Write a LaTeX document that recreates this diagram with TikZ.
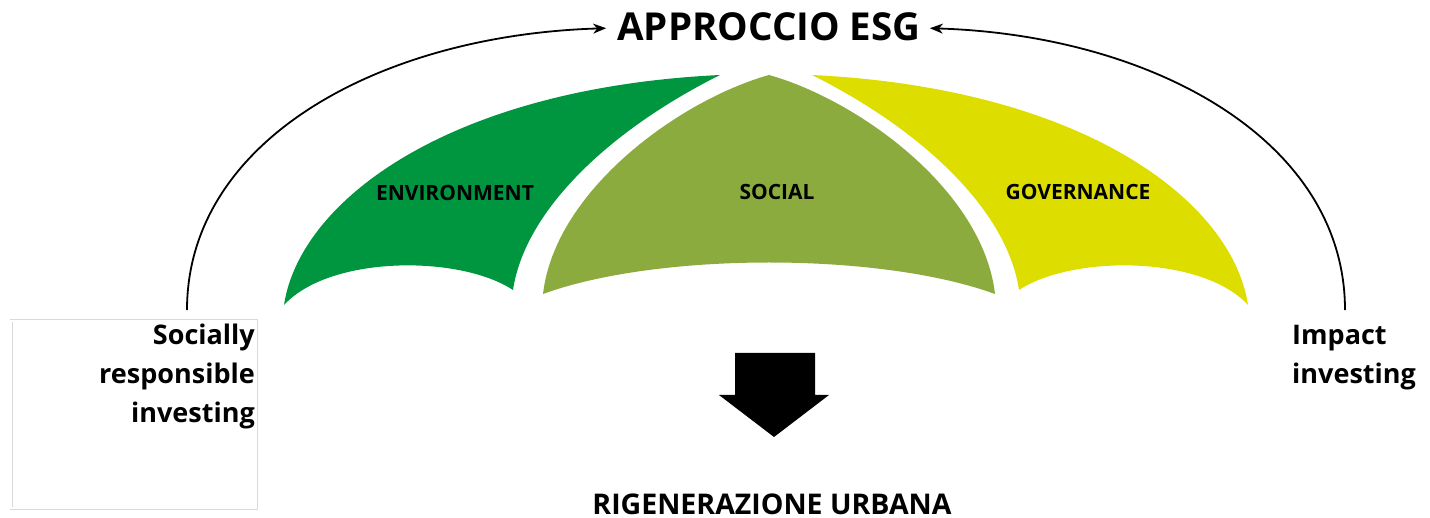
\documentclass[tikz,border=0pt]{standalone}
\usepackage{fontspec}
\setmainfont{Open Sans}
\usetikzlibrary{arrows.meta}
\definecolor{envgreen}{HTML}{009640}
\definecolor{socgreen}{HTML}{8BAB3F}
\definecolor{govyellow}{HTML}{DDDD00}
\tikzset{
  conn/.style={line width=1.8pt, -{Stealth[length=13pt,width=10pt,inset=4pt]}},
  panellabel/.style={font=\bfseries\fontsize{21}{25}\selectfont, anchor=base, inner sep=0pt},
  sidetext/.style={font=\bfseries\fontsize{27}{39}\selectfont, inner sep=0pt},
}
\begin{document}
\begin{tikzpicture}[x=1pt,y=-1pt]
\useasboundingbox (0,0) rectangle (1430,518);
% grey frame
\draw[gray!30, line width=0.8pt, double=white, double distance=1.4pt] (11,321) rectangle (256,508);
% umbrella panels
\fill[envgreen] (284,305) .. controls (300,200) and (450,88) .. (720,75)
  .. controls (610,130) and (525,210) .. (513,290)
  .. controls (460,255) and (330,255) .. cycle;
\fill[socgreen] (543,294) .. controls (555,190) and (680,100) .. (769,75)
  .. controls (858,100) and (983,190) .. (995,294)
  .. controls (880,252) and (658,252) .. cycle;
\fill[govyellow] (1248,305) .. controls (1232,200) and (1082,88) .. (812,75)
  .. controls (922,130) and (1007,210) .. (1019,290)
  .. controls (1072,255) and (1202,255) .. cycle;
\node[panellabel] (env) at (455,201) {ENVIRONMENT};
\node[panellabel] (soc) at (777,200) {SOCIAL};
\node[panellabel] (gov) at (1078,200) {GOVERNANCE};
% title
\node[font=\bfseries\fontsize{38.5}{44}\selectfont, anchor=base, inner sep=0pt] (title) at (769,41) {APPROCCIO ESG};
% side texts
\node[sidetext, anchor=base east, align=right] (sri) at (255,423) {Socially\\responsible\\investing};
\node[sidetext, anchor=base west, align=left] (impact) at (1292,384) {Impact\\investing};
\coordinate (lstart) at (187,310);
\coordinate (rstart) at (1345,310);
\draw[conn] (lstart) .. controls (187,140) and (380,35) .. ([xshift=-11pt,yshift=-1pt]title.west);
\draw[conn] (rstart) .. controls (1345,140) and (1152,35) .. ([xshift=9pt,yshift=-1pt]title.east);
% down arrow
\fill[black] (735,353) -- (815,353) -- (815,395) -- (829,395) -- (774,437) -- (719,395) -- (735,395) -- cycle;
% result
\node[font=\bfseries\fontsize{28.5}{34}\selectfont, anchor=base, inner sep=0pt] (rig) at (772,514) {RIGENERAZIONE URBANA};
\end{tikzpicture}
\end{document}
